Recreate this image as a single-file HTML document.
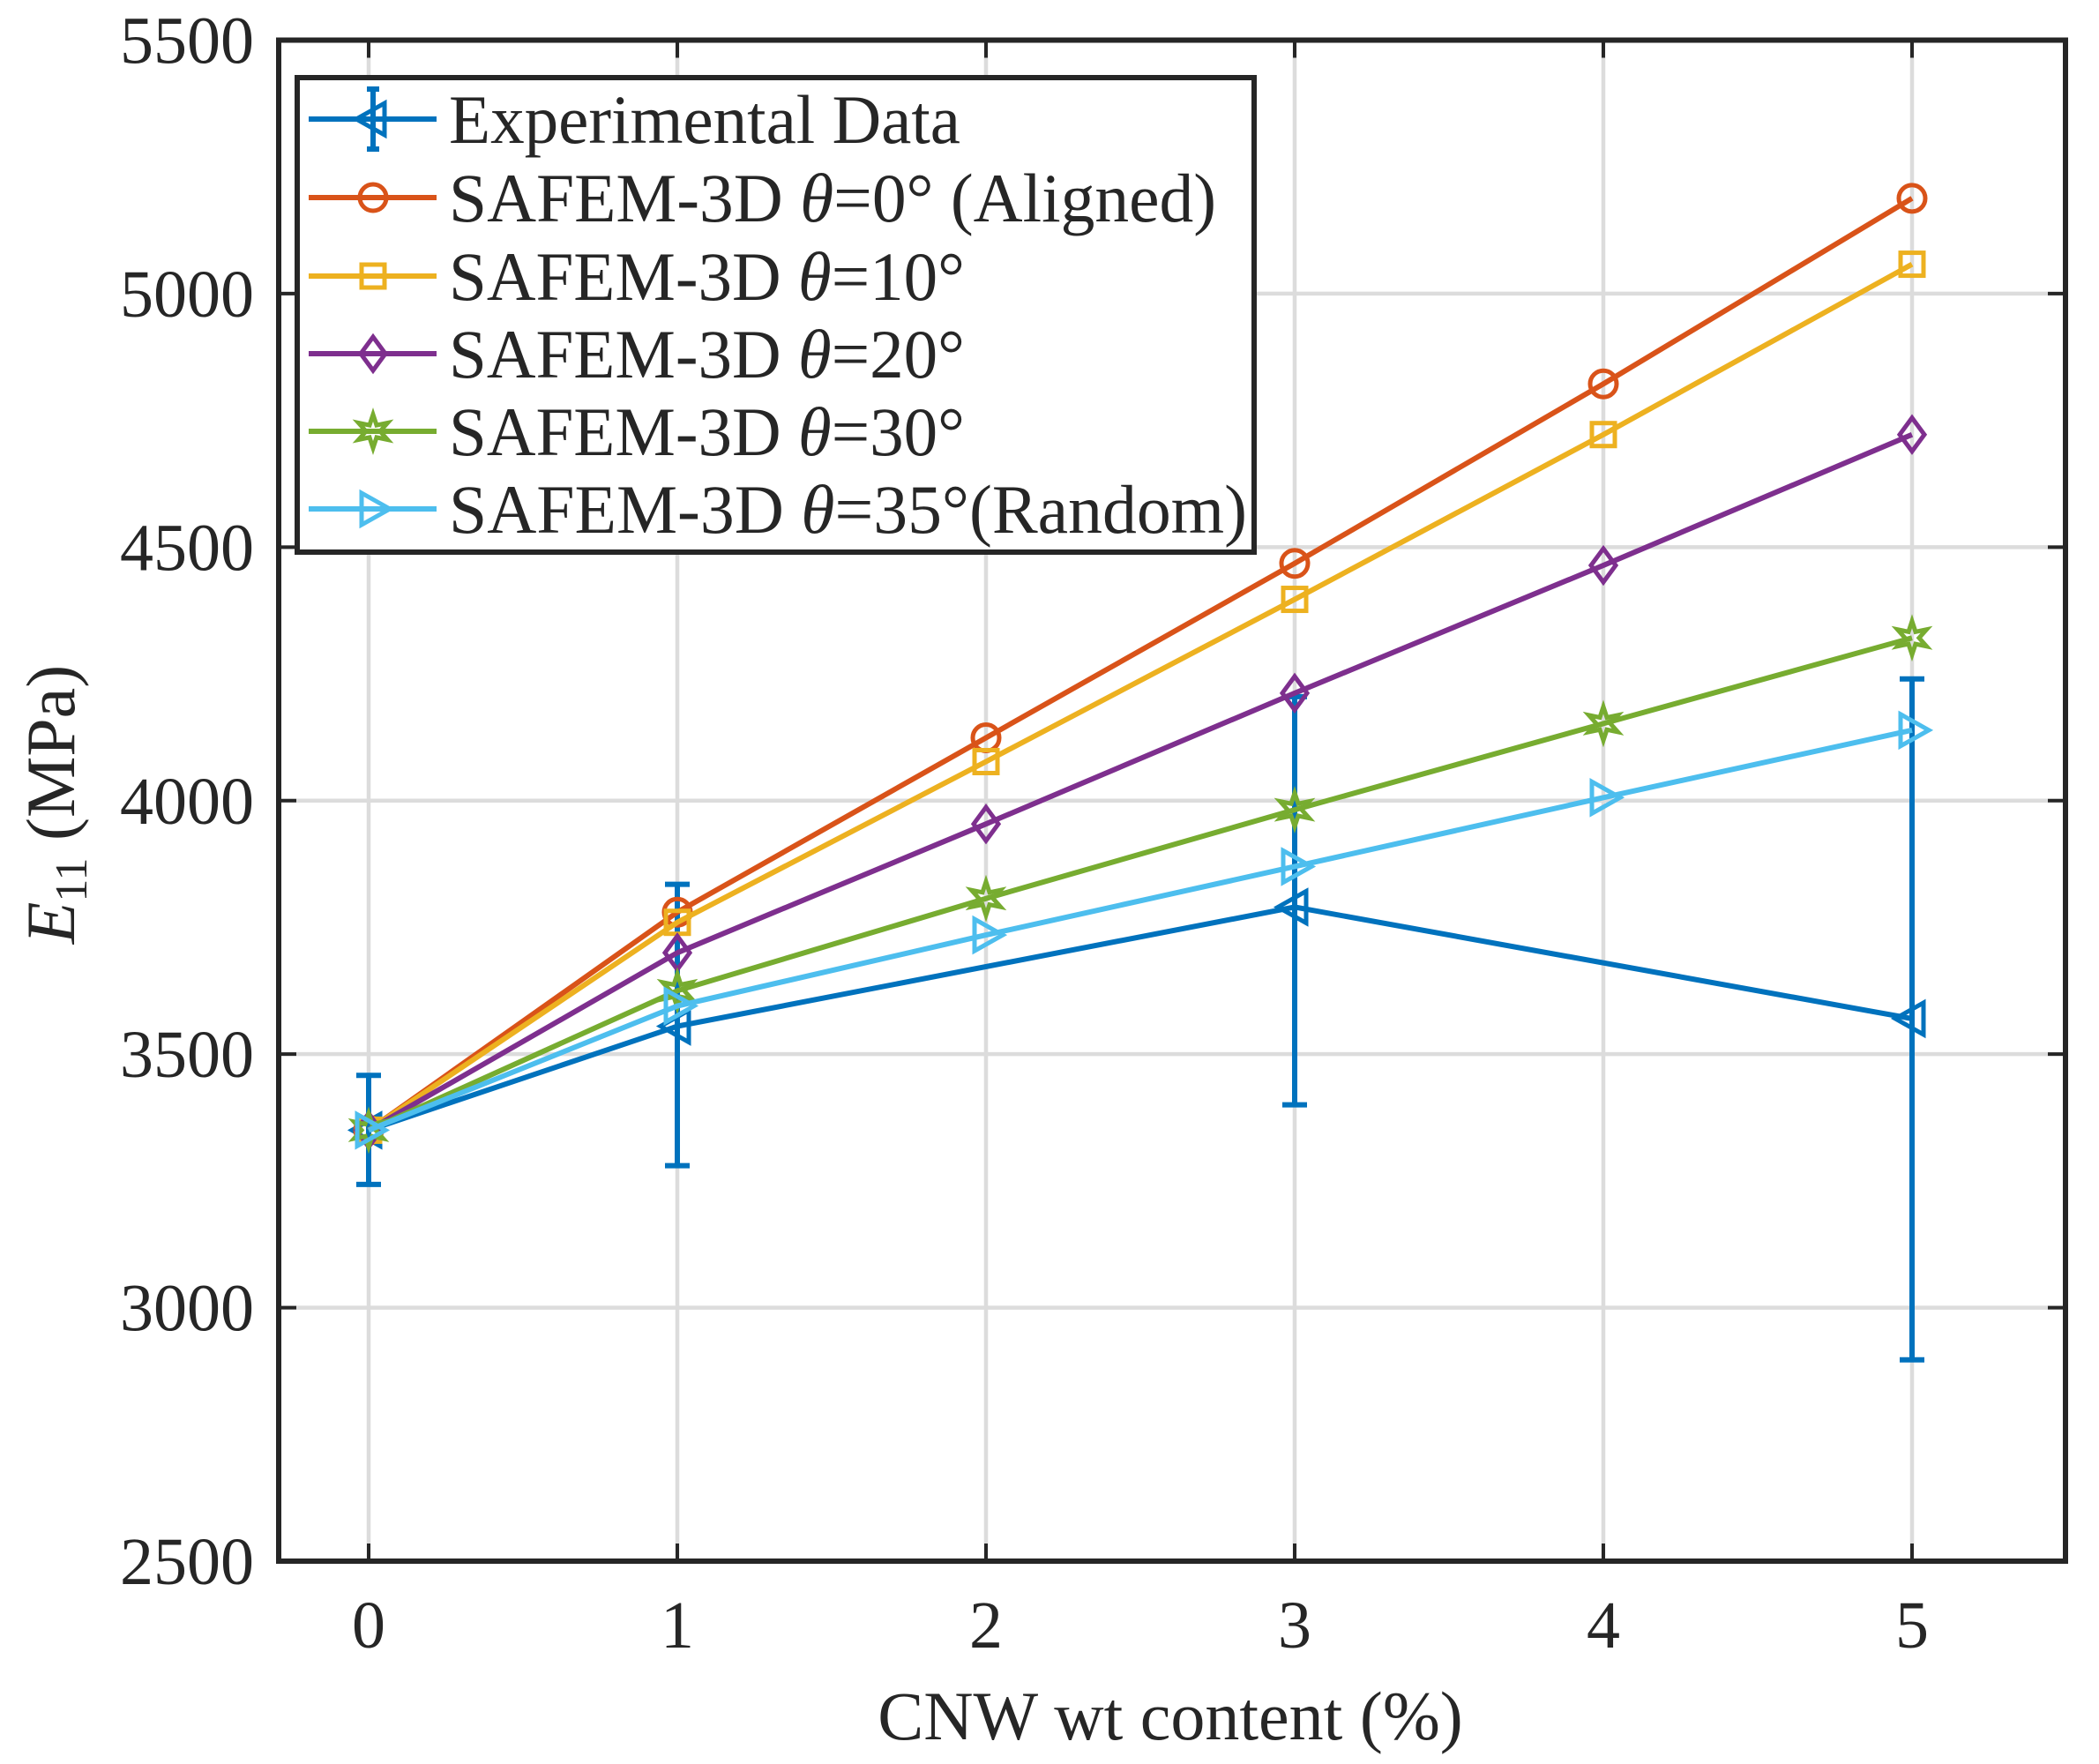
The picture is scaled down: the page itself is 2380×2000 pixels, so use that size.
<!DOCTYPE html>
<html><head><meta charset="utf-8"><style>
html,body{margin:0;padding:0;background:#fff}
svg{display:block}
text{font-family:"Liberation Serif",serif;fill:#262626}
</style></head><body>
<svg id="chart" width="2380" height="2000" viewBox="0 0 2380 2000" xmlns="http://www.w3.org/2000/svg">
<rect x="0" y="0" width="2380" height="2000" fill="#fff"/>
<g id="grid"></g>
<g id="series"></g>
<g id="axes"></g>
<g id="legend"></g>
<text x="1327" y="1972" font-size="78" text-anchor="middle">CNW wt content (%)</text>
<text transform="translate(84,912) rotate(-90)" font-size="78" text-anchor="middle"><tspan font-style="italic">E</tspan><tspan font-size="52" dy="14">11</tspan><tspan dy="-14"> (MPa)</tspan></text>
</svg>
<script>
const xCats = [0, 1, 2, 3, 4, 5];
const yTicks = [2500, 3000, 3500, 4000, 4500, 5000, 5500];
const expVals = [3350, 3555, null, 3790, null, 3570];
const expLow = [3243, 3280, null, 3400, null, 2897];
const expHigh = [3458, 3835, null, 4205, null, 4240];
const theta0 = [3350, 3780, 4124, 4468, 4822, 5188];
const theta10 = [3350, 3760, 4077, 4397, 4722, 5058];
const theta20 = [3350, 3700, 3954, 4212, 4464, 4722];
const theta30 = [3350, 3625, 3807, 3982, 4152, 4321];
const theta35 = [3350, 3595, 3735, 3870, 4006, 4139];

const NS = 'http://www.w3.org/2000/svg';
const L = 316, R = 2342, T = 45.5, B = 1770;
const xs = v => 418 + (v - 0) * 350;
const ys = v => B - (v - 2500) / 3000 * (B - T);
function mk(tag, attrs, parent) {
  const e = document.createElementNS(NS, tag);
  for (const k in attrs) e.setAttribute(k, attrs[k]);
  parent.appendChild(e);
  return e;
}
const grid = document.getElementById('grid');
const axes = document.getElementById('axes');
const series = document.getElementById('series');
const legend = document.getElementById('legend');

xCats.forEach(c => {
  const g = mk('line', {x1: xs(c), x2: xs(c), y1: T, y2: B, stroke: '#dcdcdc', 'stroke-width': 4.5}, grid);
  
  
  const t1 = mk('line', {x1: xs(c), x2: xs(c), y1: B, y2: B - 20, stroke: '#262626', 'stroke-width': 4}, axes);
  
  
  const t2 = mk('line', {x1: xs(c), x2: xs(c), y1: T, y2: T + 20, stroke: '#262626', 'stroke-width': 4}, axes);
  
  
  const lb = mk('text', {x: xs(c), y: 1868, 'font-size': 76, 'text-anchor': 'middle'}, axes);
  lb.textContent = c;
  
  
});
yTicks.forEach(v => {
  const g = mk('line', {x1: L, x2: R, y1: ys(v), y2: ys(v), stroke: '#dcdcdc', 'stroke-width': 4.5}, grid);
  
  
  const t1 = mk('line', {x1: L, x2: L + 20, y1: ys(v), y2: ys(v), stroke: '#262626', 'stroke-width': 4}, axes);
  
  
  const t2 = mk('line', {x1: R, x2: R - 20, y1: ys(v), y2: ys(v), stroke: '#262626', 'stroke-width': 4}, axes);
  
  
  const lb = mk('text', {x: 288, y: ys(v) + 26, 'font-size': 76, 'text-anchor': 'end'}, axes);
  lb.textContent = v;
  
  
});
const frame = mk('rect', {x: L, y: T, width: R - L, height: B - T, fill: 'none', stroke: '#262626', 'stroke-width': 6}, axes);



function marker(type, x, y, color, parent) {
  let e;
  const base = {fill: 'none', stroke: color, 'stroke-width': 5};
  if (type === 'circle') e = mk('circle', Object.assign({cx: x, cy: y, r: 15}, base), parent);
  else if (type === 'square') e = mk('rect', Object.assign({x: x - 13, y: y - 13, width: 26, height: 26}, base), parent);
  else if (type === 'diamond') e = mk('polygon', Object.assign({points: `${x},${y-19} ${x+14},${y} ${x},${y+19} ${x-14},${y}`}, base), parent);
  else if (type === 'star') {
    const p = [];
    for (let i = 0; i < 12; i++) { const a = -Math.PI/2 + i*Math.PI/6; const r = i%2 ? 8 : 19; p.push((x + r*Math.cos(a)) + ',' + (y + r*Math.sin(a))); }
    e = mk('polygon', Object.assign({points: p.join(' ')}, base), parent);
  }
  else if (type === 'right') e = mk('polygon', Object.assign({points: `${x-13},${y-18} ${x+19},${y} ${x-13},${y+18}`}, base), parent);
  else if (type === 'left') e = mk('polygon', Object.assign({points: `${x+13},${y-18} ${x-19},${y} ${x+13},${y+18}`}, base), parent);
  return e;
}

const models = [
  {vals: theta0, color: '#D95319', m: 'circle', name: 'series-theta-0', label: ['SAFEM-3D ', 'θ', '=0° (Aligned)']},
  {vals: theta10, color: '#EDB120', m: 'square', name: 'series-theta-10', label: ['SAFEM-3D ', 'θ', '=10°']},
  {vals: theta20, color: '#7E2F8E', m: 'diamond', name: 'series-theta-20', label: ['SAFEM-3D ', 'θ', '=20°']},
  {vals: theta30, color: '#77AC30', m: 'star', name: 'series-theta-30', label: ['SAFEM-3D ', 'θ', '=30°']},
  {vals: theta35, color: '#4DBEEE', m: 'right', name: 'series-theta-35', label: ['SAFEM-3D ', 'θ', '=35°(Random)']}
];

const expG = mk('g', {}, series);


const ePts = [];
xCats.forEach((c, i) => { if (expVals[i] !== null) ePts.push(xs(c) + ',' + ys(expVals[i])); });
const eLine = mk('polyline', {points: ePts.join(' '), fill: 'none', stroke: '#0072BD', 'stroke-width': 6}, expG);


xCats.forEach((c, i) => {
  if (expVals[i] === null) return;
  const x = xs(c);
  const eb = mk('path', {d: `M${x},${ys(expLow[i])}V${ys(expHigh[i])}M${x-14},${ys(expLow[i])}H${x+14}M${x-14},${ys(expHigh[i])}H${x+14}`, fill: 'none', stroke: '#0072BD', 'stroke-width': 6}, expG);
  
  
  const mm = marker('left', x, ys(expVals[i]), '#0072BD', expG);
  
  
});

models.forEach(s => {
  const g = mk('g', {}, series);
  
  
  const ln = mk('polyline', {points: xCats.map((c, i) => xs(c) + ',' + ys(s.vals[i])).join(' '), fill: 'none', stroke: s.color, 'stroke-width': 6}, g);
  
  
  xCats.forEach((c, i) => {
    const mm = marker(s.m, xs(c), ys(s.vals[i]), s.color, g);
    
    
  });
});

const lb = mk('rect', {x: 337, y: 88, width: 1085, height: 538, fill: '#fff', stroke: '#262626', 'stroke-width': 6}, legend);


const rowY = [135, 224, 313, 401, 489, 577];
{
  const g = mk('g', {}, legend);
  
  
  const y = rowY[0];
  mk('line', {x1: 350, x2: 495, y1: y, y2: y, stroke: '#0072BD', 'stroke-width': 6}, g);
  mk('path', {d: `M423,${y-34}V${y+34}M416,${y-34}H430M416,${y+34}H430`, stroke: '#0072BD', 'stroke-width': 6, fill: 'none'}, g);
  marker('left', 423, y, '#0072BD', g);
  const t = mk('text', {x: 509, y: y + 27, 'font-size': 78, textLength: 580, lengthAdjust: 'spacingAndGlyphs'}, g);
  t.textContent = 'Experimental Data';
}
const labLens = [870, 585, 585, 585, 905];
models.forEach((s, k) => {
  const g = mk('g', {}, legend);
  
  
  const y = rowY[k + 1];
  mk('line', {x1: 350, x2: 495, y1: y, y2: y, stroke: s.color, 'stroke-width': 6}, g);
  marker(s.m, 423, y, s.color, g);
  const t = mk('text', {x: 509, y: y + 27, 'font-size': 78, textLength: labLens[k], lengthAdjust: 'spacingAndGlyphs'}, g);
  const a = mk('tspan', {}, t); a.textContent = s.label[0];
  const b = mk('tspan', {'font-style': 'italic'}, t); b.textContent = s.label[1];
  const c = mk('tspan', {}, t); c.textContent = s.label[2];
});
</script>
</body></html>
